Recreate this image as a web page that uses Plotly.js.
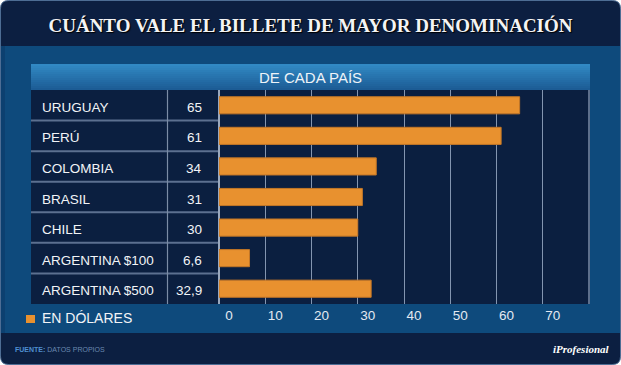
<!DOCTYPE html>
<html>
<head>
<meta charset="utf-8">
<script src="https://cdn.plot.ly/plotly-3.0.1.min.js"></script>
<style>html,body{margin:0;padding:0;background:#fff;}#chart{width:621px;height:365px;}</style>
</head>
<body>
<div id="chart"></div>
<script>
// ---- data ----
const categories = ["URUGUAY", "PERÚ", "COLOMBIA", "BRASIL", "CHILE", "ARGENTINA $100", "ARGENTINA $500"];
const values = [65, 61, 34, 31, 30, 6.6, 32.9];
const tickValues = [0, 10, 20, 30, 40, 50, 60, 70];
const seriesName = "EN DÓLARES";
const titleText = "CUÁNTO VALE EL BILLETE DE MAYOR DENOMINACIÓN";
const subtitleText = "DE CADA PAÍS";
const sourceLabel = "FUENTE:";
const sourceText = "DATOS PROPIOS";
const brandText = "iProfesional";

// ---- helpers (pixel -> paper) ----
const W = 621, H = 365;
const px = x => x / W;
const py = y => 1 - y / H;
function rect(x0, y0, x1, y1, fill, extra) {
  return Object.assign({type: 'rect', xref: 'paper', yref: 'paper', x0: px(x0), x1: px(x1), y0: py(y1), y1: py(y0),
    fillcolor: fill, line: {width: 0}, layer: 'below'}, extra || {});
}
function roundRectPath(x0, y0, x1, y1, r) {
  const X = v => px(v).toFixed(5), Y = v => py(v).toFixed(5);
  return `M${X(x0 + r)},${Y(y0)} L${X(x1 - r)},${Y(y0)} Q${X(x1)},${Y(y0)} ${X(x1)},${Y(y0 + r)} ` +
    `L${X(x1)},${Y(y1 - r)} Q${X(x1)},${Y(y1)} ${X(x1 - r)},${Y(y1)} L${X(x0 + r)},${Y(y1)} ` +
    `Q${X(x0)},${Y(y1)} ${X(x0)},${Y(y1 - r)} L${X(x0)},${Y(y0 + r)} Q${X(x0)},${Y(y0)} ${X(x0 + r)},${Y(y0)} Z`;
}
function lerpColor(a, b, t) {
  const pa = [1, 3, 5].map(i => parseInt(a.substr(i, 2), 16));
  const pb = [1, 3, 5].map(i => parseInt(b.substr(i, 2), 16));
  return 'rgb(' + pa.map((v, i) => Math.round(v + (pb[i] - v) * t)).join(',') + ')';
}

const shapes = [];
// outer panel (rounded) + bands
shapes.push({type: 'path', xref: 'paper', yref: 'paper', path: roundRectPath(0.5, 0.5, 620.5, 364.5, 8),
  fillcolor: '#0c1f41', line: {color: '#4d6d94', width: 1}, layer: 'below'});
shapes.push(rect(1, 46, 620, 333, '#0e4a7c'));
shapes.push(rect(1, 46, 5, 333, '#0c4070'));
// header gradient band
const hTop = 64, hBot = 90, steps = 13;
for (let i = 0; i < steps; i++) {
  const y0 = hTop + (hBot - hTop) * i / steps, y1 = hTop + (hBot - hTop) * (i + 1) / steps;
  shapes.push(rect(31, y0, 590, y1 + 0.3, lerpColor('#3189c4', '#1c5c95', i / (steps - 1))));
}
// table + plot dark background
shapes.push(rect(31, 90, 590, 304, '#0b1f40'));
// legend swatch
shapes.push(rect(26, 315, 35, 323, '#e8912f'));
// row separators (category positions)
for (let i = 0; i < categories.length - 1; i++) {
  shapes.push({type: 'line', xref: 'paper', yref: 'y', x0: px(31), x1: px(219), y0: i + 0.5, y1: i + 0.5,
    line: {color: '#5c7090', width: 2}, layer: 'between'});
}
// column divider
shapes.push({type: 'line', xref: 'paper', yref: 'paper', x0: px(167.5), x1: px(167.5), y0: py(304), y1: py(90),
  line: {color: '#7b8ca6', width: 1.2}, layer: 'between'});
// right border of plot
shapes.push({type: 'line', xref: 'paper', yref: 'paper', x0: px(589), x1: px(589), y0: py(304), y1: py(90),
  line: {color: '#5d6f8c', width: 2}, layer: 'between'});

const font = 'Liberation Sans, Arial, sans-serif';
const annotations = [];
categories.forEach((c, i) => {
  annotations.push({xref: 'paper', yref: 'y', x: px(39.5), y: c, xanchor: 'left', yanchor: 'middle', yshift: -2,
    text: c, showarrow: false, font: {family: font, size: 13.5, color: '#f2f4f7'}});
  annotations.push({xref: 'paper', yref: 'y', x: px(203.5), y: c, xanchor: 'right', yanchor: 'middle', yshift: -2,
    text: String(values[i]).replace('.', ','), showarrow: false, font: {family: font, size: 13.5, color: '#f2f4f7'}});
});
annotations.push({xref: 'paper', yref: 'paper', x: px(310), y: py(77), xanchor: 'center', yanchor: 'middle',
  text: subtitleText, showarrow: false, font: {family: font, size: 15, color: '#eef3f8'}});
annotations.push({xref: 'paper', yref: 'paper', x: px(39.5), y: py(318), xanchor: 'left', yanchor: 'middle',
  text: seriesName, showarrow: false, font: {family: font, size: 14, color: '#f2f4f7'}});
annotations.push({xref: 'paper', yref: 'paper', x: px(13), y: py(349), xanchor: 'left', yanchor: 'middle',
  text: '<b>' + sourceLabel + '</b> <span style="color:#6a89b0">' + sourceText + '</span>', showarrow: false,
  font: {family: font, size: 7, color: '#4f8fd0'}});
annotations.push({xref: 'paper', yref: 'paper', x: px(612), y: py(349), xanchor: 'right', yanchor: 'middle',
  text: '<b><i>' + brandText + '</i></b>', showarrow: false,
  font: {family: 'Liberation Serif, Times New Roman, serif', size: 11, color: '#ffffff'}});

const trace = {
  type: 'bar', orientation: 'h', y: categories, x: values, name: seriesName,
  width: 0.56,
  marker: {color: '#e8912f', line: {color: '#c27627', width: 1}},
  hoverinfo: 'x+y', showlegend: false
};

const layout = {
  width: W, height: H,
  margin: {l: 0, r: 0, t: 0, b: 0, pad: 0},
  paper_bgcolor: '#ffffff', plot_bgcolor: 'rgba(0,0,0,0)',
  title: {text: titleText, x: 0.5, xanchor: 'center', xref: 'paper', y: py(25.5), yanchor: 'middle', yref: 'paper',
    font: {family: 'Liberation Serif, Times New Roman, serif', size: 19, weight: 'bold', color: '#f4f4f4',
      shadow: '1px 1px 1px #000000'}},
  xaxis: {domain: [px(219), px(589)], range: [0, 80], tickmode: 'array', tickvals: tickValues,
    showgrid: true, gridcolor: '#8395b0', gridwidth: 1, zeroline: true, zerolinecolor: '#9aa8bd', zerolinewidth: 1.5,
    showline: false, ticks: '', ticklabelshift: 10, ticklabelstandoff: 1,
    tickfont: {family: font, size: 13.5, color: '#e3e9f1'}, fixedrange: true},
  yaxis: {domain: [py(304), py(90)], type: 'category', autorange: 'reversed', showticklabels: false,
    showgrid: false, zeroline: false, showline: false, ticks: '', fixedrange: true},
  bargap: 0.44,
  shapes: shapes,
  annotations: annotations,
  showlegend: false
};

Plotly.newPlot('chart', [trace], layout, {displayModeBar: false, staticPlot: true});
</script>
</body>
</html>
